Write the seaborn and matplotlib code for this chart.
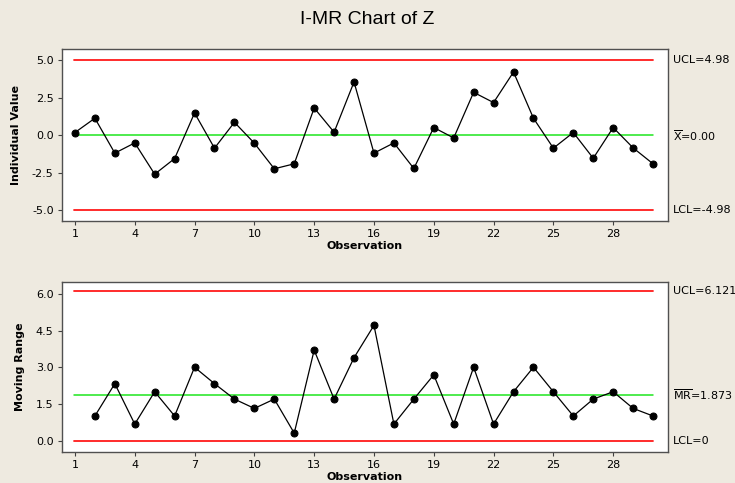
import matplotlib
matplotlib.use("Agg")
import matplotlib.pyplot as plt
import matplotlib.transforms as mtransforms
import numpy as np
import pandas as pd
import seaborn as sns

# values
observation = list(range(1, 31))
individual = [0.18, 1.13, -1.19, -0.51, -2.59, -1.55, 1.48, -0.86, 0.86, -0.53,
              -2.23, -1.90, 1.81, 0.20, 3.54, -1.19, -0.51, -2.21, 0.51, -0.18,
              2.85, 2.17, 4.20, 1.13, -0.86, 0.18, -1.53, 0.51, -0.84, -1.90]
moving_range = [np.nan, 1.01, 2.33, 0.68, 2.00, 1.01, 3.00, 2.33, 1.70, 1.32,
                1.70, 0.31, 3.70, 1.70, 3.39, 4.71, 0.68, 1.70, 2.69, 0.68,
                3.00, 0.68, 2.00, 3.00, 2.00, 1.01, 1.70, 2.00, 1.32, 1.01]
i_limits = {"ucl": 4.98, "center": 0.00, "lcl": -4.98}
mr_limits = {"ucl": 6.121, "center": 1.873, "lcl": 0.0}
x_ticks = [1, 4, 7, 10, 13, 16, 19, 22, 25, 28]
i_ticks = [-5.0, -2.5, 0.0, 2.5, 5.0]
mr_ticks = [0.0, 1.5, 3.0, 4.5, 6.0]

df = pd.DataFrame({"obs": observation, "ind": individual, "mr": moving_range})

sns.set_style("ticks")
plt.rcParams["font.family"] = ["DejaVu Sans"]
plt.rcParams["text.color"] = "black"
plt.rcParams["axes.labelcolor"] = "black"
plt.rcParams["xtick.color"] = "black"
plt.rcParams["ytick.color"] = "black"

bg = "#EEEAE0"
fig = plt.figure(figsize=(7.35, 4.83), dpi=100, facecolor=bg)
W, H = 735, 483
ax1 = fig.add_axes([62 / W, 1 - 221 / H, (668 - 62) / W, (221 - 49) / H])
ax2 = fig.add_axes([62 / W, 1 - 452 / H, (668 - 62) / W, (452 - 282) / H])

fig.text(0.5, 1 - 20 / H, "I-MR Chart of Z", ha="center", va="center",
         fontsize=14, family="Liberation Sans", color="black")


def draw_panel(ax, col, limits, yticks, ylim, ylabel, labels):
    ax.set_facecolor("white")
    ax.axhline(limits["ucl"], color="#FF1A1A", lw=1.3, xmin=0.02, xmax=0.975)
    ax.axhline(limits["lcl"], color="#FF1A1A", lw=1.3, xmin=0.02, xmax=0.975)
    ax.axhline(limits["center"], color="#1EE61E", lw=1.1, xmin=0.02, xmax=0.975)
    sns.lineplot(data=df, x="obs", y=col, ax=ax, color="black", lw=0.9,
                 marker="o", markersize=5, markeredgecolor="black")
    ax.set_xlim(0.35, 30.75)
    ax.set_ylim(*ylim)
    ax.set_xticks(x_ticks)
    ax.set_yticks(yticks)
    ax.set_yticklabels([f"{t:.1f}" for t in yticks])
    ax.tick_params(labelsize=8, length=3, width=0.8, color="#404040", pad=3)
    for s in ax.spines.values():
        s.set_visible(True)
        s.set_color("#505050")
        s.set_linewidth(1.0)
    ax.set_xlabel("Observation", fontsize=8, fontweight="bold", labelpad=1)
    ax.set_ylabel(ylabel, fontsize=8, fontweight="bold", labelpad=8)
    trans = mtransforms.blended_transform_factory(ax.transAxes, ax.transData)
    for key, txt in labels.items():
        ax.text(1.008, limits[key], txt, transform=trans, fontsize=8,
                ha="left", va="center")


draw_panel(ax1, "ind", i_limits, i_ticks, (-5.7, 5.73), "Individual Value",
           {"ucl": "UCL=4.98", "center": r"$\mathregular{\overline{X}}$=0.00",
            "lcl": "LCL=-4.98"})
draw_panel(ax2, "mr", mr_limits, mr_ticks, (-0.46, 6.48), "Moving Range",
           {"ucl": "UCL=6.121", "center": r"$\mathregular{\overline{MR}}$=1.873",
            "lcl": "LCL=0"})

fig.savefig("out.png", dpi=100, facecolor=bg)
